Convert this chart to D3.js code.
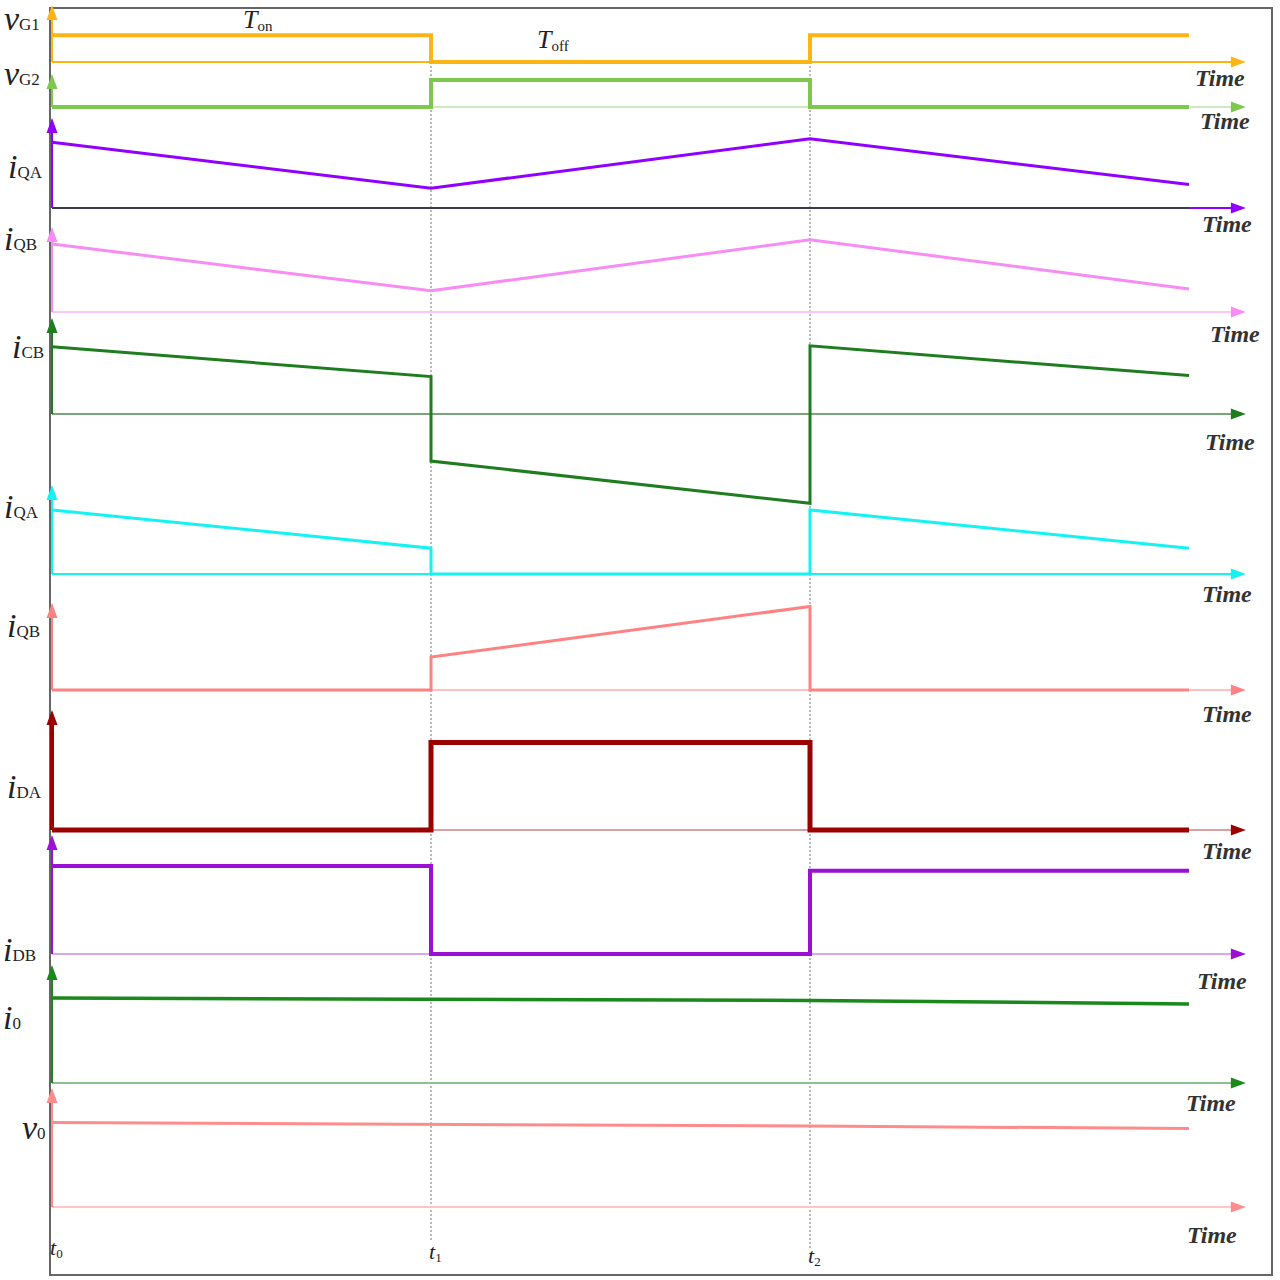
<!DOCTYPE html>
<html>
<head>
<meta charset="utf-8">
<script src="https://cdn.jsdelivr.net/npm/d3@7"></script>
<style>
  body { margin: 0; background: #fff; }
  text { font-family: "Liberation Serif", "DejaVu Serif", serif; }
</style>
</head>
<body>
<div class="chart"></div>
<script>
// switching instants (t0, t1, t2) and end of drawn period
const switchTimes = [0, 1, 2]
const switchNames = ['0', '1', '2']
const periodEnd = 3
const axisEnd = 3.15

// time points for step-like and ramp-like traces
const stepT = [0, 1, 1, 2, 2, 3]
const rampT = [0, 1, 2, 3]
const flatT = [0, 2, 3]

// trace values, relative to the height of each trace's own axis (0 = time axis)
const vG1 = [0.47, 0.47, 0, 0, 0.47, 0.47]
const vG2 = [0, 0, 0.82, 0.82, 0, 0]
const iQA = [0.73, 0.22, 0.77, 0.26]
const iQB = [0.80, 0.25, 0.85, 0.27]
const iCB = [0.70, 0.39, -0.49, -0.93, 0.71, 0.40]
const iQA2 = [0.72, 0.29, 0, 0, 0.72, 0.29]
const iQB2 = [0, 0, 0.38, 0.96, 0, 0]
const iDA = [0, 0, 0.73, 0.73, 0, 0]
const iDB = [0.74, 0.74, 0, 0, 0.70, 0.70]
const i0 = [0.72, 0.70, 0.67]
const v0 = [0.71, 0.68, 0.66]

const width = 1280
const height = 1280

const x = d3.scaleLinear().domain([0, periodEnd]).range([52, 1189])

// layout of each trace: label, colour, time axis y, arrow tip y, ...
const panels = [
  {sym:'v', sub:'G1', t:stepT, v:vG1, color:'#fbb514', base:'#fbb514', y0:62, y1:5, w:4, lx:4, ly:30, tx:1195, ty:86},
  {sym:'v', sub:'G2', t:stepT, v:vG2, color:'#7ec850', base:'#cfe8c0', y0:107, y1:74, w:4, lx:4, ly:85, tx:1200, ty:129},
  {sym:'i', sub:'QA', t:rampT, v:iQA, color:'#9100ff', base:'#3a3a4a', y0:208, y1:118, w:3, lx:8, ly:178, tx:1202, ty:232},
  {sym:'i', sub:'QB', t:rampT, v:iQB, color:'#f78cf3', base:'#fbc6f8', y0:312, y1:227, w:3, lx:4, ly:250, tx:1210, ty:342},
  {sym:'i', sub:'CB', t:stepT, v:iCB, color:'#1e7d1e', base:'#7aa57a', y0:414, y1:318, w:3, lx:12, ly:358, tx:1205, ty:450},
  {sym:'i', sub:'QA', t:stepT, v:iQA2, color:'#14f2f2', base:'#14f2f2', y0:574, y1:485, w:3, lx:4, ly:518, tx:1202, ty:602},
  {sym:'i', sub:'QB', t:stepT, v:iQB2, color:'#ff8282', base:'#ffc0c0', y0:690, y1:603, w:3, lx:7, ly:637, tx:1202, ty:722},
  {sym:'i', sub:'DA', t:stepT, v:iDA, color:'#9a0000', base:'#d7a0a0', y0:830, y1:710, w:5, lx:7, ly:798, tx:1202, ty:859},
  {sym:'i', sub:'DB', t:stepT, v:iDB, color:'#9c10d6', base:'#d8a8ec', y0:954, y1:835, w:4, lx:3, ly:961, tx:1197, ty:989},
  {sym:'i', sub:'0', t:flatT, v:i0, color:'#1a881a', base:'#8cc08c', y0:1083, y1:965, w:3.5, lx:3, ly:1029, tx:1186, ty:1111},
  {sym:'v', sub:'0', t:flatT, v:v0, color:'#ff8c8c', base:'#ffc4c4', y0:1207, y1:1088, w:3, lx:22, ly:1139, tx:1187, ty:1243}
]

const svg = d3.select('.chart')
  .append('svg')
    .attr('width', width)
    .attr('height', height)

// frame
svg.append('rect')
  .attr('x', 50).attr('y', 8)
  .attr('width', 1222).attr('height', 1267)
  .attr('fill', 'none')
  .attr('stroke', '#666')
  .attr('stroke-width', 2)

// dotted markers at t1, t2
svg.selectAll('line.mark')
  .data(switchTimes.slice(1))
  .join('line')
    .attr('class', 'mark')
    .attr('x1', d => x(d)).attr('x2', d => x(d))
    .attr('y1', 62).attr('y2', (d, i) => i ? 1248 : 1240)
    .attr('stroke', '#777')
    .attr('stroke-width', 1)
    .attr('stroke-dasharray', '2,2')

function arrowHead(g, px, py, dir, color){
  // dir 'up' or 'right'
  let pts = dir == 'up'
    ? [[px, py], [px-5.5, py+15], [px+5.5, py+15]]
    : [[px, py], [px-15, py-5.5], [px-15, py+5.5]]
  g.append('path')
    .attr('d', 'M' + pts.join('L') + 'Z')
    .attr('fill', color)
}

panels.forEach(p => {
  const y = d3.scaleLinear().domain([0, 1]).range([p.y0, p.y1])
  const g = svg.append('g')

  // time axis
  g.append('line')
    .attr('x1', x(0)).attr('x2', x(axisEnd) - 12)
    .attr('y1', y(0)).attr('y2', y(0))
    .attr('stroke', p.base)
    .attr('stroke-width', 1.8)
  if (p.sub == 'QA' && p.t == rampT) {
    g.append('line')
      .attr('x1', x(periodEnd)).attr('x2', x(axisEnd) - 12)
      .attr('y1', y(0)).attr('y2', y(0))
      .attr('stroke', p.color).attr('stroke-width', 1.8)
  }
  arrowHead(g, x(axisEnd), y(0), 'right', p.color)

  // vertical axis
  g.append('line')
    .attr('x1', x(0)).attr('x2', x(0))
    .attr('y1', y(0)).attr('y2', y(1) + 10)
    .attr('stroke', p.color)
    .attr('stroke-width', p.sub == 'DA' ? 4 : 2)
  arrowHead(g, x(0), y(1), 'up', p.color)

  // trace
  const line = d3.line().x(d => x(d[0])).y(d => y(d[1]))
  g.append('path')
    .attr('d', line(p.t.map((t, i) => [t, p.v[i]])))
    .attr('fill', 'none')
    .attr('stroke', p.color)
    .attr('stroke-width', p.w)

  // signal label
  const lab = g.append('text')
    .attr('x', p.lx).attr('y', p.ly)
    .attr('fill', '#222')
  lab.append('tspan')
    .attr('font-style', 'italic')
    .attr('font-size', 34)
    .text(p.sym)
  lab.append('tspan')
    .attr('font-size', 17)
    .text(p.sub)

  // Time label
  g.append('text')
    .attr('x', p.tx).attr('y', p.ty)
    .attr('font-style', 'italic')
    .attr('font-weight', 'bold')
    .attr('font-size', 24)
    .attr('fill', '#333')
    .text('Time')
})

// left frame / axis line
svg.append('line')
  .attr('x1', 50).attr('x2', 50)
  .attr('y1', 8).attr('y2', 1275)
  .attr('stroke', '#555')
  .attr('stroke-width', 1.5)
  .lower()

// Ton / Toff
const durations = [
  {sub:'on', x:243, y:28},
  {sub:'off', x:537, y:48}
]
durations.forEach(d => {
  const t = svg.append('text').attr('x', d.x).attr('y', d.y).attr('fill', '#222')
  t.append('tspan').attr('font-style', 'italic').attr('font-size', 26).text('T')
  t.append('tspan').attr('font-size', 15).attr('dy', 3).text(d.sub)
})

// t0, t1, t2
svg.selectAll('text.tick')
  .data(switchTimes)
  .join('text')
    .attr('class', 'tick')
    .attr('x', d => x(d) - 2)
    .attr('y', (d, i) => 1255 + i * 4)
    .attr('fill', '#222')
    .each(function(d, i){
      const t = d3.select(this)
      t.append('tspan').attr('font-style', 'italic').attr('font-size', 22).text('t')
      t.append('tspan').attr('font-size', 13).attr('dy', 3).text(switchNames[i])
    })
</script>
</body>
</html>
